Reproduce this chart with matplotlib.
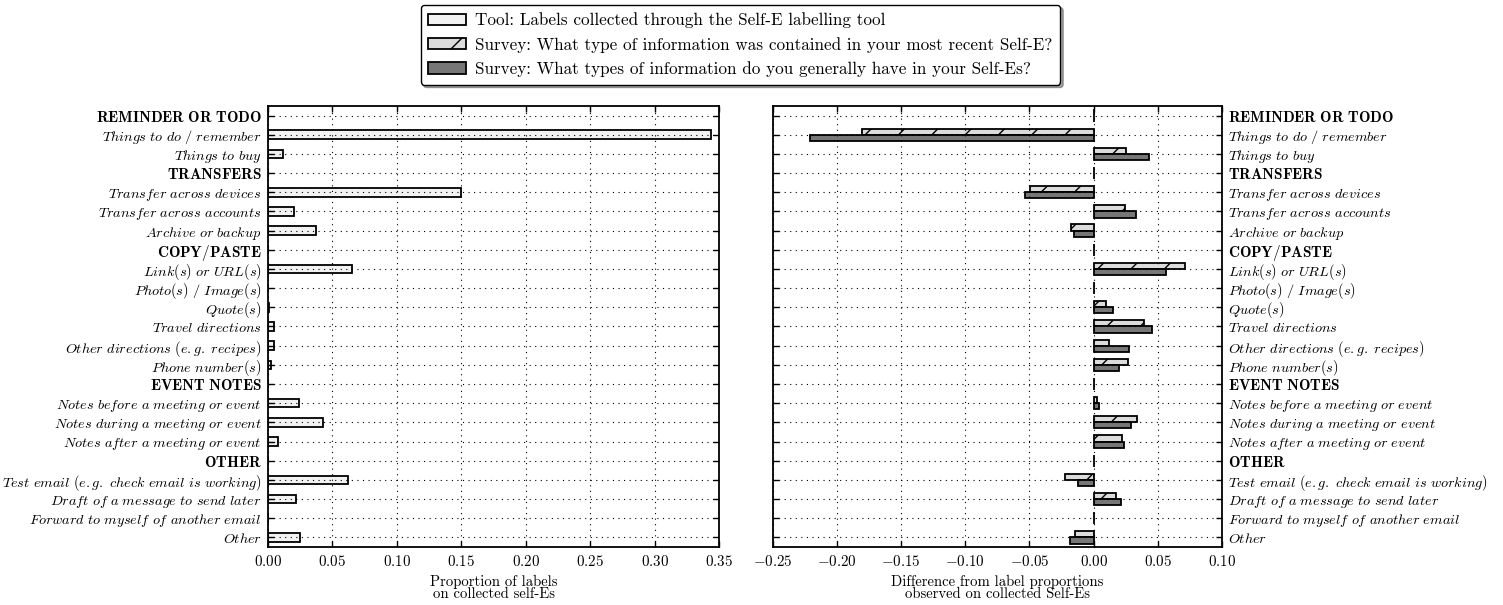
import matplotlib
matplotlib.use('Agg')
import matplotlib.pyplot as plt
from matplotlib.ticker import FuncFormatter, MultipleLocator
import numpy as np

categories = ["REMINDER OR TODO", "Things to do / remember", "Things to buy",
              "TRANSFERS", "Transfer across devices", "Transfer across accounts",
              "Archive or backup", "COPY/PASTE", "Link(s) or URL(s)",
              "Photo(s) / Image(s)", "Quote(s)", "Travel directions",
              "Other directions (e.g. recipes)", "Phone number(s)", "EVENT NOTES",
              "Notes before a meeting or event", "Notes during a meeting or event",
              "Notes after a meeting or event", "OTHER",
              "Test email (e.g. check email is working)",
              "Draft of a message to send later",
              "Forward to myself of another email", "Other"]
headers = ["REMINDER OR TODO", "TRANSFERS", "COPY/PASTE", "EVENT NOTES", "OTHER"]

# proportion of labels from the labelling tool
tool = [0, 0.344, 0.012, 0, 0.150, 0.020, 0.037, 0, 0.065, 0, 0.0008, 0.005,
        0.005, 0.002, 0, 0.024, 0.043, 0.008, 0, 0.062, 0.0215, 0, 0.025]
# difference survey - tool
survey_recent = [0, -0.1805, 0.025, 0, -0.0493, 0.0245, -0.0174, 0, 0.0709, 0,
                 0.0094, 0.0393, 0.0122, 0.0265, 0, 0.003, 0.0338, 0.0221, 0,
                 -0.0221, 0.0175, 0, -0.0148]
survey_general = [0, -0.2213, 0.0429, 0, -0.0532, 0.0333, -0.0156, 0, 0.0564, 0,
                  0.0151, 0.0457, 0.0273, 0.0200, 0, 0.0039, 0.0289, 0.0234, 0,
                  -0.0122, 0.0211, 0, -0.0187]

legend_labels = ["Tool: Labels collected through the Self-E labelling tool",
                 "Survey: What type of information was contained in your most recent Self-E?",
                 "Survey: What types of information do you generally have in your Self-Es?"]

plt.rcParams['font.family'] = 'serif'
plt.rcParams['font.serif'] = ['cmr10']
plt.rcParams['mathtext.fontset'] = 'cm'
plt.rcParams['axes.formatter.use_mathtext'] = True
plt.rcParams['hatch.linewidth'] = 1.0

def tex_label(name):
    body = name.replace(' ', r'\ ')
    if name in headers:
        return r'$\mathbf{%s}$' % body
    return r'$\mathit{%s}$' % body

ylabels = [tex_label(c) for c in categories]
pos = np.arange(len(categories))
fmt = FuncFormatter(lambda v, p: r'$%.2f$' % v)

fig = plt.figure(figsize=(15.03, 6.05), dpi=100)
ax1 = fig.add_axes([0.1783, 0.0959, 0.3001, 0.7289])
ax2 = fig.add_axes([0.5141, 0.0959, 0.2989, 0.7289])

b1 = ax1.barh(pos, tool, height=0.45, color='#f2f2f2', edgecolor='black',
              linewidth=1.3, label=legend_labels[0])
b2 = ax2.barh(pos - 0.16, survey_recent, height=0.32, color='#dcdcdc',
              edgecolor='black', linewidth=1.3, hatch='/', label=legend_labels[1])
b3 = ax2.barh(pos + 0.16, survey_general, height=0.32, color='#777777',
              edgecolor='black', linewidth=1.3, label=legend_labels[2])

for ax in (ax1, ax2):
    ax.set_ylim(len(categories) - 0.5, -0.5)
    ax.set_yticks(pos)
    ax.xaxis.set_major_locator(MultipleLocator(0.05))
    ax.xaxis.set_major_formatter(fmt)
    ax.grid(True, color='black', linestyle=(0, (1, 4)), linewidth=0.8)
    ax.tick_params(direction='in', top=True, bottom=True, left=True, right=True,
                   length=4, width=1)
    ax.tick_params(axis='x', labelsize=10.8, pad=5)
    ax.tick_params(axis='y', labelsize=10.3, pad=4.5)
    for s in ax.spines.values():
        s.set_linewidth(1.3)

ax1.set_xlim(0, 0.35)
ax1.set_yticklabels(ylabels)
ax1.set_xlabel("Proportion of labels\non collected self-Es", fontsize=10.6,
               linespacing=0.85, labelpad=4)

ax2.set_xlim(-0.25, 0.10)
ax2.set_yticklabels(ylabels)
ax2.tick_params(axis='y', labelleft=False, labelright=True)
ax2.set_xlabel("Difference from label proportions\nobserved on collected Self-Es",
               fontsize=10.6, linespacing=0.85, labelpad=4)

for ax in (ax1, ax2):
    for t in ax.get_yticklabels():
        if t.get_text().startswith(r'$\mathbf'):
            t.set_fontsize(11)

fig.legend(handles=[b1, b2, b3], loc='upper center', bbox_to_anchor=(0.4927, 0.992),
           fontsize=12.3, fancybox=True, shadow=True, framealpha=1,
           edgecolor='black', handlelength=2.2, handleheight=0.65,
           handletextpad=0.55, labelspacing=0.5, borderpad=0.45,
           borderaxespad=0.0)

fig.savefig('out.png', dpi=100)
